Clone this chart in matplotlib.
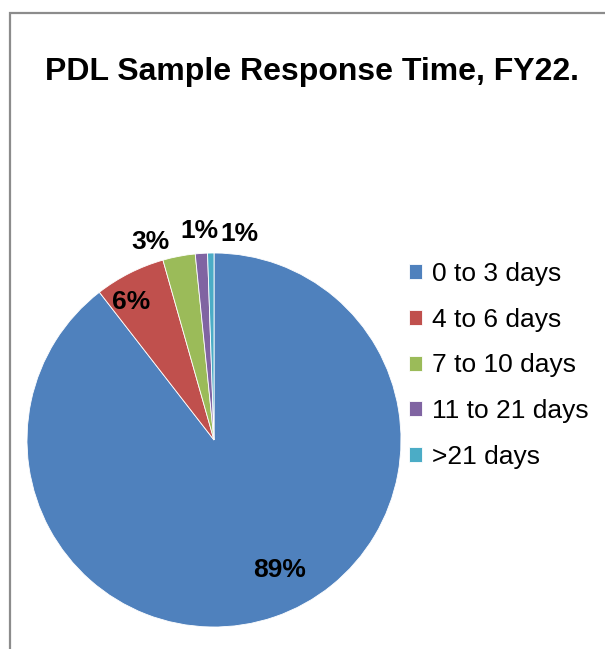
import matplotlib.pyplot as plt
from matplotlib.patches import Rectangle
import math

# dados do grafico
categorias = ['0 to 3 days', '4 to 6 days', '7 to 10 days', '11 to 21 days', '>21 days']
percentuais = [89.5, 6.1, 2.8, 1.05, 0.55]
rotulos = ['89%', '6%', '3%', '1%', '1%']
cores = ['#4F81BD', '#C0504D', '#9BBB59', '#8064A2', '#4BACC6']

# posicao dos rotulos (raio relativo e deslocamento angular)
label_r = [0.78, 0.86, 1.11, 1.12, 1.11]
label_shift = [8, 4, 7, 0, -8]

W, H = 605, 649
plt.rcParams['font.family'] = ['Liberation Sans', 'DejaVu Sans']

fig = plt.figure(figsize=(W / 100, H / 100), dpi=100)

# moldura cinza do grafico
fig.add_artist(Rectangle((10 / W, -0.1), 1.2, 1.1 - 13 / H, transform=fig.transFigure,
                         fill=False, edgecolor='#8c8c8c', linewidth=1.6))

cx, cy, r = 214, 440, 187
ax = fig.add_axes([(cx - r) / W, 1 - (cy + r) / H, 2 * r / W, 2 * r / H])
wedges, _ = ax.pie(percentuais, colors=cores, startangle=90, counterclock=False,
                   wedgeprops=dict(edgecolor='white', linewidth=0.6))
ax.set_xlim(-1, 1)
ax.set_ylim(-1, 1)
ax.set_aspect('equal')
ax.axis('off')

for w, txt, rr, sh in zip(wedges, rotulos, label_r, label_shift):
    ang = math.radians((w.theta1 + w.theta2) / 2 + sh)
    ax.text(rr * math.cos(ang), rr * math.sin(ang), txt, ha='center', va='center',
            fontsize=19, fontweight='bold', color='black', clip_on=False)

fig.text(312 / W, 1 - 72 / H, 'PDL Sample Response Time, FY22.', ha='center', va='center',
         fontsize=23, fontweight='bold')

leg = fig.legend(wedges, categorias, loc='upper left', bbox_to_anchor=(396 / W, 1 - 249 / H),
                 frameon=False, fontsize=19, handlelength=0.5, handleheight=0.5,
                 handletextpad=0.35, labelspacing=0.82, borderpad=0)

fig.savefig('out.png', dpi=100)
